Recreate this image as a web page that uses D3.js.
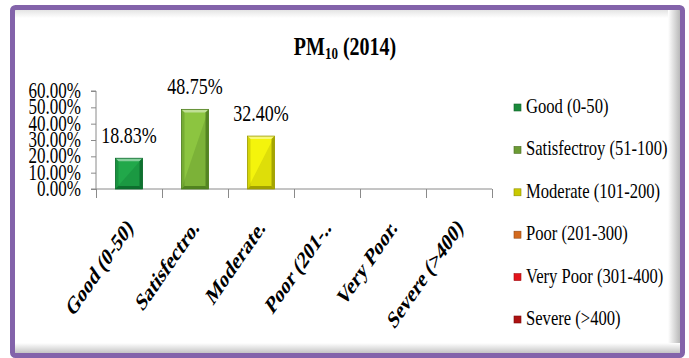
<!DOCTYPE html>
<html>
<head>
<meta charset="utf-8">
<script src="https://cdn.jsdelivr.net/npm/d3@7"></script>
<style>
  html, body { margin: 0; padding: 0; background: #fff; }
  svg { display: block; }
</style>
</head>
<body>
<script>
// PM10 (2014) share of days per AQI category
const categories = ["Good (0-50)", "Satisfectroy (51-100)", "Moderate (101-200)", "Poor (201-300)", "Very Poor (301-400)", "Severe (>400)"];
const axisLabels = ["Good (0-50)", "Satisfectro.", "Moderate.", "Poor (201-..", "Very Poor.", "Severe (>400)"];
const values = [18.83, 48.75, 32.40, 0, 0, 0];
const yTicks = [0, 10, 20, 30, 40, 50, 60];
const barColors = ["#21a84a", "#8cc540", "#f4f40c", "#e07a22", "#ee1c1c", "#b51414"];
const barDark = ["#0c6a2c", "#4d7d1e", "#9b9b00", "#9a4a10", "#9a0c0c", "#6e0808"];
const legendColors = ["#1b8a3b", "#6b9b34", "#c9c900", "#d36a1e", "#e3141b", "#ad1111"];

const W = 689, H = 358;
const K = 1.25; // vertical stretch applied to lettering
const FONT = "'Liberation Serif', Tinos, 'Times New Roman', Times, serif";

const svg = d3.select("body").append("svg").attr("width", W).attr("height", H)
  .attr("font-family", FONT);
const defs = svg.append("defs");

// inner shadow strips of the frame
const gR = defs.append("linearGradient").attr("id", "shR").attr("x1", 0).attr("x2", 1).attr("y1", 0).attr("y2", 0);
gR.append("stop").attr("offset", 0).attr("stop-color", "#fff");
gR.append("stop").attr("offset", 1).attr("stop-color", "#b9b9b9");
const gB = defs.append("linearGradient").attr("id", "shB").attr("x1", 0).attr("x2", 0).attr("y1", 0).attr("y2", 1);
gB.append("stop").attr("offset", 0).attr("stop-color", "#fff");
gB.append("stop").attr("offset", 1).attr("stop-color", "#b9b9b9");
const gT = defs.append("linearGradient").attr("id", "shT").attr("x1", 0).attr("x2", 0).attr("y1", 0).attr("y2", 1);
gT.append("stop").attr("offset", 0).attr("stop-color", "#e4e4e4");
gT.append("stop").attr("offset", 1).attr("stop-color", "#fff");

svg.append("rect").attr("x", 0).attr("y", 0).attr("width", W).attr("height", H).attr("fill", "#fff");
svg.append("rect").attr("x", 15).attr("y", 10).attr("width", 665).attr("height", 8).attr("fill", "url(#shT)");
svg.append("rect").attr("x", 668).attr("y", 10).attr("width", 12).attr("height", 345).attr("fill", "url(#shR)");
svg.append("rect").attr("x", 15).attr("y", 343).attr("width", 665).attr("height", 12).attr("fill", "url(#shB)");
svg.append("rect").attr("x", 12.5).attr("y", 7.5).attr("width", 670).attr("height", 348)
  .attr("rx", 3).attr("fill", "none").attr("stroke", "#8363aa").attr("stroke-width", 5);

// stretched text helper
function label(g, x, y, txt, size, opts = {}) {
  const t = g.append("text")
    .attr("transform", `translate(${x},${y}) scale(1,${opts.k || K})` + (opts.rotate ? ` rotate(${opts.rotate})` : ""))
    .attr("font-family", FONT)
    .attr("fill", "#000")
    .attr("font-size", size)
    .attr("text-anchor", opts.anchor || "start")
    .attr("font-weight", opts.bold ? "bold" : "normal")
    .text(txt);
  if (opts.spacing) t.attr("letter-spacing", opts.spacing);
  return t;
}

// title
const title = svg.append("text")
  .attr("transform", `translate(345,55) scale(1,${K})`)
  .attr("font-family", FONT)
  .attr("text-anchor", "middle").attr("font-size", 20).attr("font-weight", "bold");
title.append("tspan").text("PM");
title.append("tspan").attr("font-size", 13).attr("dy", 3).text("10");
title.append("tspan").attr("dy", -3).text(" (2014)");

// scales
const x = d3.scaleBand().domain(categories).range([96, 492]).paddingInner(0.59).paddingOuter(0.295);
const y = d3.scaleLinear().domain([0, 60]).range([189, 91]);

const axisColor = "#8a8a8a";
// y axis
const yAxis = svg.append("g").attr("transform", "translate(96,0)")
  .call(d3.axisLeft(y).tickValues(yTicks).tickSize(5).tickFormat(""));
yAxis.selectAll("path,line").attr("stroke", axisColor);
yAxis.select(".domain").attr("d", `M-5,${y(60)}H0V${y(0)}H-5`);
yTicks.forEach(v => label(svg, 81, y(v) + 7, v.toFixed(2) + "%", 17, { anchor: "end", k: 1.3 }));

// x axis with boundary ticks
const band = d3.scaleLinear().domain([0, categories.length]).range([96, 492]);
const xAxis = svg.append("g").attr("transform", `translate(0,${y(0)})`)
  .call(d3.axisBottom(band).tickValues(d3.range(categories.length + 1)).tickSize(9).tickFormat(""));
xAxis.selectAll("path,line").attr("stroke", axisColor);
xAxis.select(".domain").attr("d", "M96,0H492");

// bars with bevel
const bars = svg.append("g");
values.forEach((v, i) => {
  if (v <= 0) return;
  const x0 = x(categories[i]), bw = x.bandwidth();
  const x1 = x0 + bw, y0 = y(v), y1 = y(0);
  const g = bars.append("g");
  g.append("rect").attr("x", x0).attr("y", y0).attr("width", bw).attr("height", y1 - y0).attr("fill", barColors[i]);
  // shaded lower-right half
  g.append("path").attr("d", `M${x0},${y1}L${x1},${y0}L${x1},${y1}Z`).attr("fill", barDark[i]).attr("opacity", 0.25);
  // bevel edges
  g.append("path").attr("d", `M${x0},${y0}L${x1},${y0}L${x1 - 3},${y0 + 3}L${x0 + 3},${y0 + 3}Z`).attr("fill", "#fff").attr("opacity", 0.45);
  g.append("path").attr("d", `M${x1},${y0}L${x1},${y1}L${x1 - 3},${y1 - 3}L${x1 - 3},${y0 + 3}Z`).attr("fill", barDark[i]).attr("opacity", 0.85);
  g.append("path").attr("d", `M${x0},${y1}L${x1},${y1}L${x1 - 3},${y1 - 3}L${x0 + 3},${y1 - 3}Z`).attr("fill", barDark[i]).attr("opacity", 0.9);
  g.append("path").attr("d", `M${x0},${y0}L${x0 + 3},${y0 + 3}L${x0 + 3},${y1 - 3}L${x0},${y1}Z`).attr("fill", barDark[i]).attr("opacity", 0.35);
  g.append("rect").attr("x", x0).attr("y", y0).attr("width", bw).attr("height", y1 - y0)
    .attr("fill", "none").attr("stroke", barDark[i]).attr("stroke-width", 0.8);
  // value label
  label(svg, x0 + bw / 2, y0 - 15, v.toFixed(2) + "%", 18, { anchor: "middle" });
});

// rotated category labels
axisLabels.forEach((t, i) => {
  const cx = x(categories[i]) + x.bandwidth() / 2;
  label(svg, cx + 5, 229, t, 17, { anchor: "end", bold: true, k: 1.45, rotate: -45 });
});

// legend
const legend = svg.append("g");
categories.forEach((c, i) => {
  const cy = 108 + i * 42.4;
  legend.append("rect").attr("x", 514).attr("y", cy - 4).attr("width", 7).attr("height", 7)
    .attr("fill", legendColors[i]).attr("stroke", d3.color(legendColors[i]).darker(1)).attr("stroke-width", 0.6);
  label(legend, 526, cy + 5, c, 16.6, { k: 1.2 });
});
</script>
</body>
</html>
